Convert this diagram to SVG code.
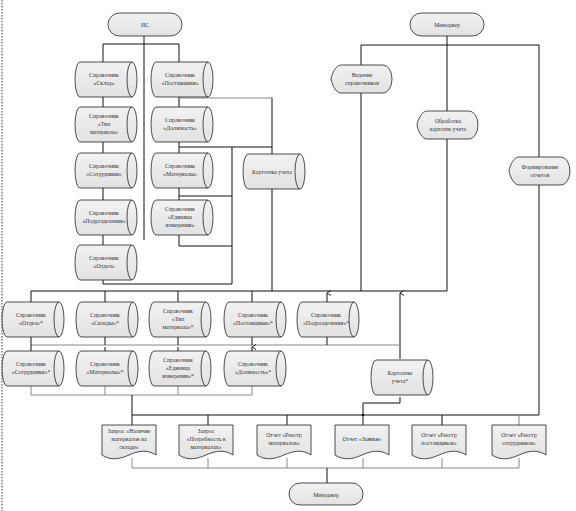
<svg xmlns="http://www.w3.org/2000/svg" xmlns:xlink="http://www.w3.org/1999/xlink" width="576" height="511" viewBox="0 0 576 511">
<style>
.ln{fill:none;stroke:#111;stroke-width:1}
.lg{fill:none;stroke:#888;stroke-width:1}
.nd{fill:url(#gr);stroke:#222;stroke-width:0.8}
.in{fill:none;stroke:#222;stroke-width:0.8}
text{font-family:"Liberation Serif","Times New Roman",serif;font-size:5.8px;fill:#333;text-anchor:middle}
</style>
<defs>
<linearGradient id="gr" x1="0" y1="0" x2="0" y2="1"><stop offset="0" stop-color="#f2f2f2"/><stop offset="1" stop-color="#e2e2e2"/></linearGradient>
<g id="cyl"><path class="nd" d="M5,0H57A5,17.5 0 0 1 57,35H5A5,17.5 0 0 1 5,0Z"/><path class="in" d="M57,0A5,17.5 0 0 0 57,35"/></g>
<path id="doc" class="nd" d="M0,0H54V30C45,24 36,26 27,30C18,34 9,36 0,30Z"/>
<path id="disp" class="nd" d="M10,0H52A9,14 0 0 1 52,28H10C5,28 1,20 0,14C1,8 5,0 10,0Z"/>
<marker id="ar" viewBox="0 0 6 6" refX="3" refY="0" markerWidth="6" markerHeight="6" orient="auto-start-reverse" markerUnits="userSpaceOnUse"><path d="M0.5,4 L3,0 L5.5,4" fill="none" stroke="#111" stroke-width="0.9"/></marker>
</defs>
<rect width="576" height="511" fill="#fff"/>
<line x1="2" y1="0" x2="2" y2="511" stroke="#333" stroke-width="1" stroke-dasharray="1.5,1.5"/>
<g id="connectors">
<path class="ln" d="M144,36V240M103,44H179M103,44V284H232M179,44V246M179,147H272M179,196H232M179,246H232M232,147V284"/>
<path class="lg" d="M179,98H272" stroke-width="1.5"/>
<path class="ln" d="M272,98V154M272,189V291"/>
<path class="ln" d="M31,291H447M31,291V302M105,291V302M178,291V302M252,291V302"/>
<path class="ln" d="M447,36V291M361,45H539M361,45V291M539,45V415"/>
<path class="ln" d="M327,302V293" marker-end="url(#ar)"/>
<path class="ln" d="M400,359V293" marker-end="url(#ar)"/>
<path class="lg" d="M31,345H400"/>
<path class="ln" d="M31,337V351M327,337V345"/>
<path class="ln" d="M105,351V347M178,351V347M252,351V347" marker-end="url(#ar)"/>
<path class="ln" d="M105,337V345M178,337V345M252,337V345"/>
<path class="lg" d="M31,386V395H252M105,386V395M178,386V395M252,386V395"/>
<path class="ln" d="M132,395V425M132,415H539M208,415V425M287,415V425M442,415V425"/>
<path class="lg" d="M519,415V425"/>
<path class="ln" d="M400,397V403H363V425"/>
<circle cx="363" cy="415" r="1.3" fill="#111"/>
<path class="lg" d="M132,458V468H519M208,458V468M287,458V468M363,458V468M442,458V468M519,458V468"/>
<path class="ln" d="M327,468V483"/>
</g>
<g id="is"><rect class="nd" x="108" y="13" width="74" height="23" rx="11.5"/><text x="145" y="27">ИС</text></g>
<g id="manager-top"><rect class="nd" x="410" y="13" width="74" height="23" rx="11.5"/><text x="447" y="27">Менеджер</text></g>
<g id="manager-bottom"><rect class="nd" x="289" y="483" width="74" height="22" rx="11"/><text x="326" y="497">Менеджер</text></g>
<g id="s-sklad"><use xlink:href="#cyl" x="75" y="62"/><text x="104" y="77">Справочник</text><text x="104" y="85">«Склад»</text></g>
<g id="s-postav"><use xlink:href="#cyl" x="151" y="62"/><text x="180" y="77">Справочник</text><text x="180" y="85">«Поставщики»</text></g>
<g id="s-tip"><use xlink:href="#cyl" x="75" y="107"/><text x="104" y="118">Справочник</text><text x="104" y="126">«Тип</text><text x="104" y="134">материала»</text></g>
<g id="s-dolzh"><use xlink:href="#cyl" x="151" y="107"/><text x="180" y="122">Справочник</text><text x="180" y="130">«Должность»</text></g>
<g id="s-sotr"><use xlink:href="#cyl" x="75" y="153"/><text x="104" y="168">Справочник</text><text x="104" y="176">«Сотрудники»</text></g>
<g id="s-mater"><use xlink:href="#cyl" x="151" y="153"/><text x="180" y="168">Справочник</text><text x="180" y="176">«Материалы»</text></g>
<g id="s-podr"><use xlink:href="#cyl" x="75" y="200"/><text x="104" y="215">Справочник</text><text x="104" y="223">«Подразделения»</text></g>
<g id="s-edin"><use xlink:href="#cyl" x="151" y="200"/><text x="180" y="211">Справочник</text><text x="180" y="219">«Единица</text><text x="180" y="227">измерения»</text></g>
<g id="s-otdel"><use xlink:href="#cyl" x="75" y="245"/><text x="104" y="260">Справочник</text><text x="104" y="268">«Отдел»</text></g>
<g id="kartoteka"><use xlink:href="#cyl" x="243" y="154"/><text x="272" y="174">Картотека учета</text></g>
<g id="b-otdel"><use xlink:href="#cyl" x="2" y="302"/><text x="31" y="317">Справочник</text><text x="31" y="325">«Отдел»*</text></g>
<g id="b-sklad"><use xlink:href="#cyl" x="76" y="302"/><text x="105" y="317">Справочник</text><text x="105" y="325">«Склады»*</text></g>
<g id="b-tip"><use xlink:href="#cyl" x="149" y="302"/><text x="178" y="313">Справочник</text><text x="178" y="321">«Тип</text><text x="178" y="329">материала»*</text></g>
<g id="b-postav"><use xlink:href="#cyl" x="224" y="302"/><text x="253" y="317">Справочник</text><text x="253" y="325">«Поставщики»*</text></g>
<g id="b-podr"><use xlink:href="#cyl" x="297" y="302"/><text x="326" y="317">Справочник</text><text x="326" y="325">«Подразделения»*</text></g>
<g id="b-sotr"><use xlink:href="#cyl" x="2" y="351"/><text x="31" y="366">Справочник</text><text x="31" y="374">«Сотрудники»*</text></g>
<g id="b-mater"><use xlink:href="#cyl" x="76" y="351"/><text x="105" y="366">Справочник</text><text x="105" y="374">«Материалы»*</text></g>
<g id="b-edin"><use xlink:href="#cyl" x="149" y="351"/><text x="178" y="362">Справочник</text><text x="178" y="370">«Единица</text><text x="178" y="378">измерения»*</text></g>
<g id="b-dolzh"><use xlink:href="#cyl" x="224" y="351"/><text x="253" y="366">Справочник</text><text x="253" y="374">«Должность»*</text></g>
<g id="b-kartoteka"><use xlink:href="#cyl" x="371" y="360"/><text x="400" y="375">Картотека</text><text x="400" y="383">учета*</text></g>
<g id="vedenie"><use xlink:href="#disp" x="331" y="65"/><text x="362" y="77">Ведение</text><text x="362" y="85">справочников</text></g>
<g id="obrabotka"><use xlink:href="#disp" x="417" y="111"/><text x="448" y="123">Обработка</text><text x="448" y="131">картотек учета</text></g>
<g id="formir"><use xlink:href="#disp" x="509" y="157"/><text x="540" y="169">Формирование</text><text x="540" y="177">отчетов</text></g>
<g id="d-nalichie"><use xlink:href="#doc" x="102" y="425"/><text x="129" y="433">Запрос «Наличие</text><text x="129" y="441">материалов на</text><text x="129" y="449">складе»</text></g>
<g id="d-potreb"><use xlink:href="#doc" x="179" y="425"/><text x="206" y="433">Запрос</text><text x="206" y="441">«Потребность в</text><text x="206" y="449">материалах»</text></g>
<g id="d-reestr-mat"><use xlink:href="#doc" x="257" y="425"/><text x="284" y="437">Отчет «Реестр</text><text x="284" y="445">материалов»</text></g>
<g id="d-zayavki"><use xlink:href="#doc" x="335" y="425"/><text x="362" y="441">Отчет «Заявки»</text></g>
<g id="d-reestr-post"><use xlink:href="#doc" x="412" y="425"/><text x="439" y="437">Отчет «Реестр</text><text x="439" y="445">поставщиков»</text></g>
<g id="d-reestr-sotr"><use xlink:href="#doc" x="492" y="425"/><text x="519" y="437">Отчет «Реестр</text><text x="519" y="445">сотрудников»</text></g>
</svg>
